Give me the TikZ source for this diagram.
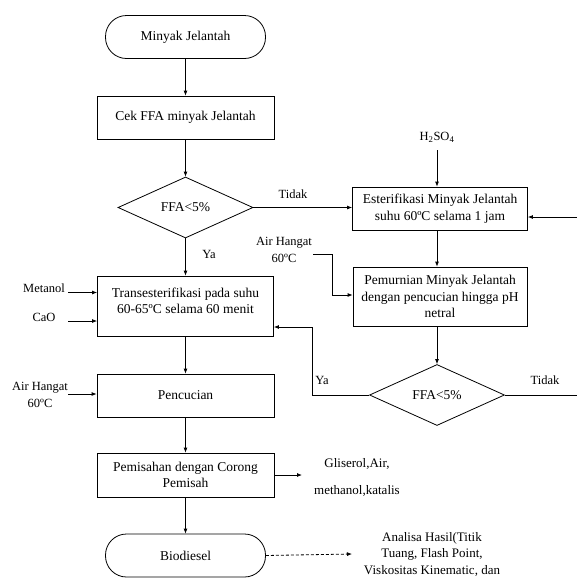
\documentclass[tikz,border=0pt]{standalone}
\usepackage{fontspec}
\setmainfont{Liberation Serif}
\usetikzlibrary{shapes.geometric,arrows.meta}
\begin{document}
\tikzset{
  boxfont/.style={font=\fontsize{13.5}{16.5}\selectfont},
  proc/.style={draw, line width=0.8pt, minimum width=177pt, inner sep=2pt, align=center, boxfont},
  term/.style={draw, line width=0.8pt, rounded corners=21pt, minimum width=160pt, minimum height=43pt, boxfont},
  decision/.style={draw, diamond, line width=0.8pt, aspect=2.2, minimum width=135pt, minimum height=61pt, inner sep=0pt, boxfont},
  lbl/.style={font=\fontsize{12.5}{16.5}\selectfont, align=center, inner sep=0pt},
  yn/.style={font=\fontsize{12.5}{15}\selectfont, inner sep=0pt},
  arr/.style={-{Latex[length=5pt,width=4pt]}, line width=0.8pt},
  ln/.style={line width=0.8pt},
  dsh/.style={dash pattern=on 3pt off 2pt}
}
\begin{tikzpicture}[x=1pt,y=-1pt]
\useasboundingbox (0,0) rectangle (577,579);
% main column
\node[term] (start) at (185.5,37) {Minyak Jelantah};
\node[proc, minimum height=43pt] (cek) at (185.5,117.5) {Cek FFA minyak Jelantah};
\node[decision] (d1) at (185.5,207.5) {FFA<5\%};
\node[proc, minimum width=176pt, minimum height=60pt] (trans) at (185.5,306) {};
\node[boxfont, align=center, inner sep=0pt] (transtxt) at (185.5,301) {Transesterifikasi pada suhu\\60-65ºC selama 60 menit};
\node[proc, minimum height=43pt] (cuci) at (185.5,395.5) {Pencucian};
\node[proc, minimum height=44pt] (pisah) at (185.5,475) {Pemisahan dengan Corong\\Pemisah};
\node[term] (bio) at (185.5,555.5) {Biodiesel};
% right column
\node[proc, minimum width=175pt, minimum height=43pt] (ester) at (440,208.5) {Esterifikasi Minyak Jelantah\\suhu 60ºC selama 1 jam};
\node[proc, minimum width=174pt, minimum height=59pt] (murni) at (440,296.5) {Pemurnian Minyak Jelantah\\dengan pencucian hingga pH\\netral};
\node[decision] (d2) at (437,395) {FFA<5\%};
% labels
\node[lbl] (h2so4) at (437,137) {H\textsubscript{2}SO\textsubscript{4}};
\node[lbl] (air1) at (284,250) {Air Hangat\\60ºC};
\node[lbl] (metanol) at (44,288) {Metanol};
\node[lbl] (cao) at (44,317) {CaO};
\node[lbl] (air2) at (40,395) {Air Hangat\\60ºC};
\node[yn] (tidak1) at (293,194) {Tidak};
\node[yn] (ya1) at (209,254) {Ya};
\node[yn] (ya2) at (322,380) {Ya};
\node[yn] (tidak2) at (545,380) {Tidak};
\node[font=\fontsize{13}{27}\selectfont, align=center, inner sep=0pt] (gli) at (357,477) {Gliserol,Air,\\methanol,katalis};
\node[font=\fontsize{13}{16.5}\selectfont, align=center, inner sep=0pt] (analisa) at (432,554) {Analisa Hasil(Titik\\Tuang, Flash Point,\\Viskositas Kinematic, dan};
% coordinates
\coordinate (h0) at (437,150);
\coordinate (a1) at (313,254);
\coordinate (a1b) at (332,295);
\coordinate (m0) at (68,292.5);
\coordinate (c0) at (68,321);
\coordinate (a2) at (68,394);
\coordinate (yb) at (312,327);
\coordinate (tend) at (577,395);
\coordinate (rin) at (577,217);
\coordinate (g0) at (302,475);
\coordinate (an0) at (352,554);
% connectors
\draw[arr] (start) -- (cek);
\draw[arr] (cek) -- (d1);
\draw[arr] (d1) -- (trans);
\draw[arr] (trans) -- (cuci);
\draw[arr] (cuci) -- (pisah);
\draw[arr] (pisah) -- (bio);
\draw[arr] (d1.east) -- (d1.east -| ester.west);
\draw[arr] (h0) -- (h0 |- ester.north);
\draw[arr] (rin) -- (rin -| ester.east);
\draw[arr] (ester.south -| h0) -- (murni.north -| h0);
\draw[arr] (a1) -| (a1b) -- (a1b -| murni.west);
\draw[arr] (murni.south -| d2) -- (d2.north);
\draw[arr] (d2.west) -| (yb) -- (yb -| trans.east);
\draw[ln] (d2.east) -- (tend);
\draw[arr] (m0) -- (m0 -| trans.west);
\draw[arr] (c0) -- (c0 -| trans.west);
\draw[arr] (a2) -- (a2 -| cuci.west);
\draw[arr] (pisah.east) -- (g0);
\draw[arr, dsh] (bio.east) -- (an0);
\end{tikzpicture}
\end{document}
